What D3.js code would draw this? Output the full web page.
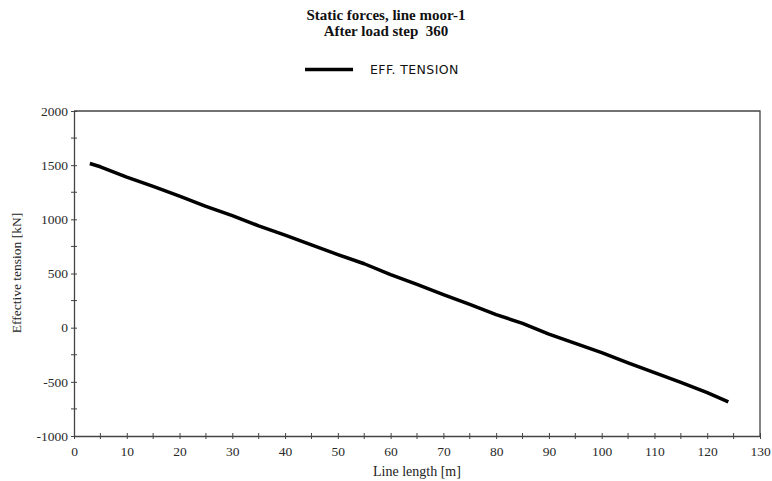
<!DOCTYPE html>
<html>
<head>
<meta charset="utf-8">
<script src="https://cdn.jsdelivr.net/npm/d3@7"></script>
<style>
  html, body { margin: 0; padding: 0; background: #fff; }
  svg { display: block; }
  text { white-space: pre; }
</style>
</head>
<body>
<svg id="chart" width="772" height="481"></svg>
<script>
// Effective tension along the mooring line
const lineLength = [3, 5, 10, 15, 20, 25, 30, 35, 40, 45, 50, 55, 60, 65, 70, 75, 80, 85, 90, 95, 100, 105, 110, 115, 120, 124];
const effTension = [1515, 1485, 1390, 1305, 1215, 1120, 1035, 940, 855, 765, 675, 590, 490, 400, 305, 215, 120, 40, -60, -145, -230, -325, -415, -505, -600, -685];
const xTicks = [0, 10, 20, 30, 40, 50, 60, 70, 80, 90, 100, 110, 120, 130];
const yTicks = [-1000, -500, 0, 500, 1000, 1500, 2000];
const titleLines = ["Static forces, line moor-1", "After load step  360"];
const seriesName = "EFF. TENSION";

const svg = d3.select("#chart");
const m = { left: 74, right: 760, top: 111, bottom: 436 };

const x = d3.scaleLinear().domain([0, 130]).range([m.left, m.right]);
const y = d3.scaleLinear().domain([-1000, 2000]).range([m.bottom, m.top]);

const serif = "'Liberation Serif', 'Times New Roman', serif";
const axisColor = "#444";
const fmt = d => String(d); // plain hyphen for negatives

// Title
svg.append("g").selectAll("text").data(titleLines).join("text")
  .attr("x", 386).attr("y", (d, i) => 20 + i * 16)
  .attr("text-anchor", "middle")
  .attr("font-family", serif).attr("font-weight", "bold").attr("font-size", 15)
  .attr("fill", "#111")
  .text(d => d);

// Legend
svg.append("line").attr("x1", 305).attr("x2", 353).attr("y1", 69.5).attr("y2", 69.5)
  .attr("stroke", "#000").attr("stroke-width", 3.5);
svg.append("text").attr("x", 370).attr("y", 74)
  .attr("font-family", "'DejaVu Sans', sans-serif").attr("font-size", 12.5)
  .attr("letter-spacing", 0.4)
  .attr("fill", "#111").text(seriesName);

// Frame (top and right edges)
svg.append("path")
  .attr("d", `M${m.left},${m.top}H${m.right}V${m.bottom}`)
  .attr("fill", "none").attr("stroke", axisColor).attr("stroke-width", 1.3);

// Axes with ticks crossing the axis line
const xAxis = d3.axisBottom(x).tickValues(xTicks).tickSize(3).tickSizeOuter(0).tickPadding(7).tickFormat(fmt);
const gx = svg.append("g").attr("transform", `translate(0,${m.bottom})`).call(xAxis);
const yAxis = d3.axisLeft(y).tickValues(yTicks).tickSize(3).tickSizeOuter(0).tickPadding(3).tickFormat(fmt);
const gy = svg.append("g").attr("transform", `translate(${m.left},0)`).call(yAxis);

[gx, gy].forEach(g => {
  g.select(".domain").attr("stroke", axisColor).attr("stroke-width", 1.3);
  g.selectAll(".tick line").attr("stroke", axisColor);
  g.selectAll(".tick text").attr("font-family", serif).attr("font-size", 13.5).attr("fill", "#2a2a2a");
});
gx.selectAll(".tick line").attr("y1", -3).attr("y2", 3);
gy.selectAll(".tick line").attr("x1", -3).attr("x2", 3);

// Minor ticks at half intervals
const xMinor = d3.range(5, 130, 10);
const yMinor = d3.range(-750, 2000, 500);
svg.append("g").selectAll("line").data(xMinor).join("line")
  .attr("x1", d => x(d)).attr("x2", d => x(d))
  .attr("y1", m.bottom - 3).attr("y2", m.bottom + 3)
  .attr("stroke", axisColor);
svg.append("g").selectAll("line").data(yMinor).join("line")
  .attr("x1", m.left - 3).attr("x2", m.left + 3)
  .attr("y1", d => y(d)).attr("y2", d => y(d))
  .attr("stroke", axisColor);

// Axis titles
svg.append("text").attr("x", 417).attr("y", 476).attr("text-anchor", "middle")
  .attr("font-family", serif).attr("font-size", 14).attr("fill", "#222")
  .text("Line length [m]");
svg.append("text").attr("transform", "translate(21,273) rotate(-90)")
  .attr("text-anchor", "middle")
  .attr("font-family", serif).attr("font-size", 13.5).attr("fill", "#222")
  .text("Effective tension [kN]");

// Series
const line = d3.line().x((d, i) => x(lineLength[i])).y(d => y(d));
svg.append("path").datum(effTension)
  .attr("d", line)
  .attr("fill", "none").attr("stroke", "#000").attr("stroke-width", 3.5)
  .attr("stroke-linejoin", "round");
</script>
</body>
</html>
